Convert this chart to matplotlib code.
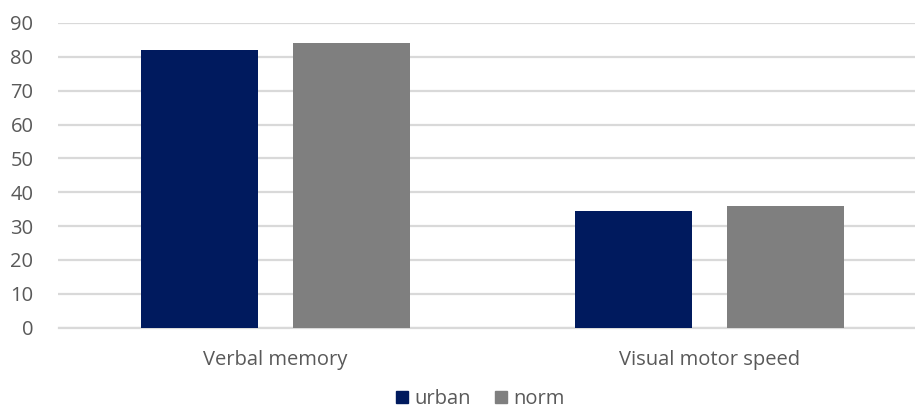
import numpy as np
import matplotlib
matplotlib.use("Agg")
import matplotlib.pyplot as plt
from matplotlib.patches import Patch

categories = ["Verbal memory", "Visual motor speed"]
urban = [82, 34.3]
norm = [84, 36]
yticks = [0, 10, 20, 30, 40, 50, 60, 70, 80, 90]

navy = "#001A5E"
grey = "#7F7F7F"
text_col = "#595959"

plt.rcParams['font.family'] = ['Open Sans', 'DejaVu Sans']

fig = plt.figure(figsize=(9.15, 4.08), dpi=100)
# axes spans from x=58.5 px to figure edge; y from 0 at 327 px to 90 at 23 px
ax = fig.add_axes([58.5 / 915, (408 - 327.5) / 408, (915 - 58.5) / 915, (327.5 - 23) / 408])

x = np.arange(len(categories))
w = 0.27
off = 0.176
ax.bar(x - off, urban, w, color=navy, zorder=3)
ax.bar(x + off, norm, w, color=grey, zorder=3)

ax.set_xlim(-0.5, 1.5 - 11.5 / 434)
ax.set_ylim(0, 90)
ax.set_yticks(yticks)
ax.yaxis.grid(True, color="#D9D9D9", linewidth=1.6, zorder=0)
ax.set_axisbelow(True)
for s in ["top", "right", "left"]:
    ax.spines[s].set_visible(False)
ax.spines["bottom"].set_color("#D9D9D9")
ax.spines["bottom"].set_linewidth(1.6)
ax.tick_params(axis="both", length=0, colors=text_col, labelsize=14.5)
ax.tick_params(axis="y", pad=18)
ax.tick_params(axis="x", pad=16)
ax.set_xticks(x)
ax.set_xticklabels(categories)

handles = [Patch(color=navy, label="urban"), Patch(color=grey, label="norm")]
fig.legend(handles=handles, loc="center", bbox_to_anchor=(480 / 915, 1 - 399 / 408),
           ncol=2, frameon=False, fontsize=14.5, handlelength=0.6, handleheight=0.6,
           handletextpad=0.3, columnspacing=1.2, labelcolor=text_col)

fig.savefig("out.png", dpi=100)
